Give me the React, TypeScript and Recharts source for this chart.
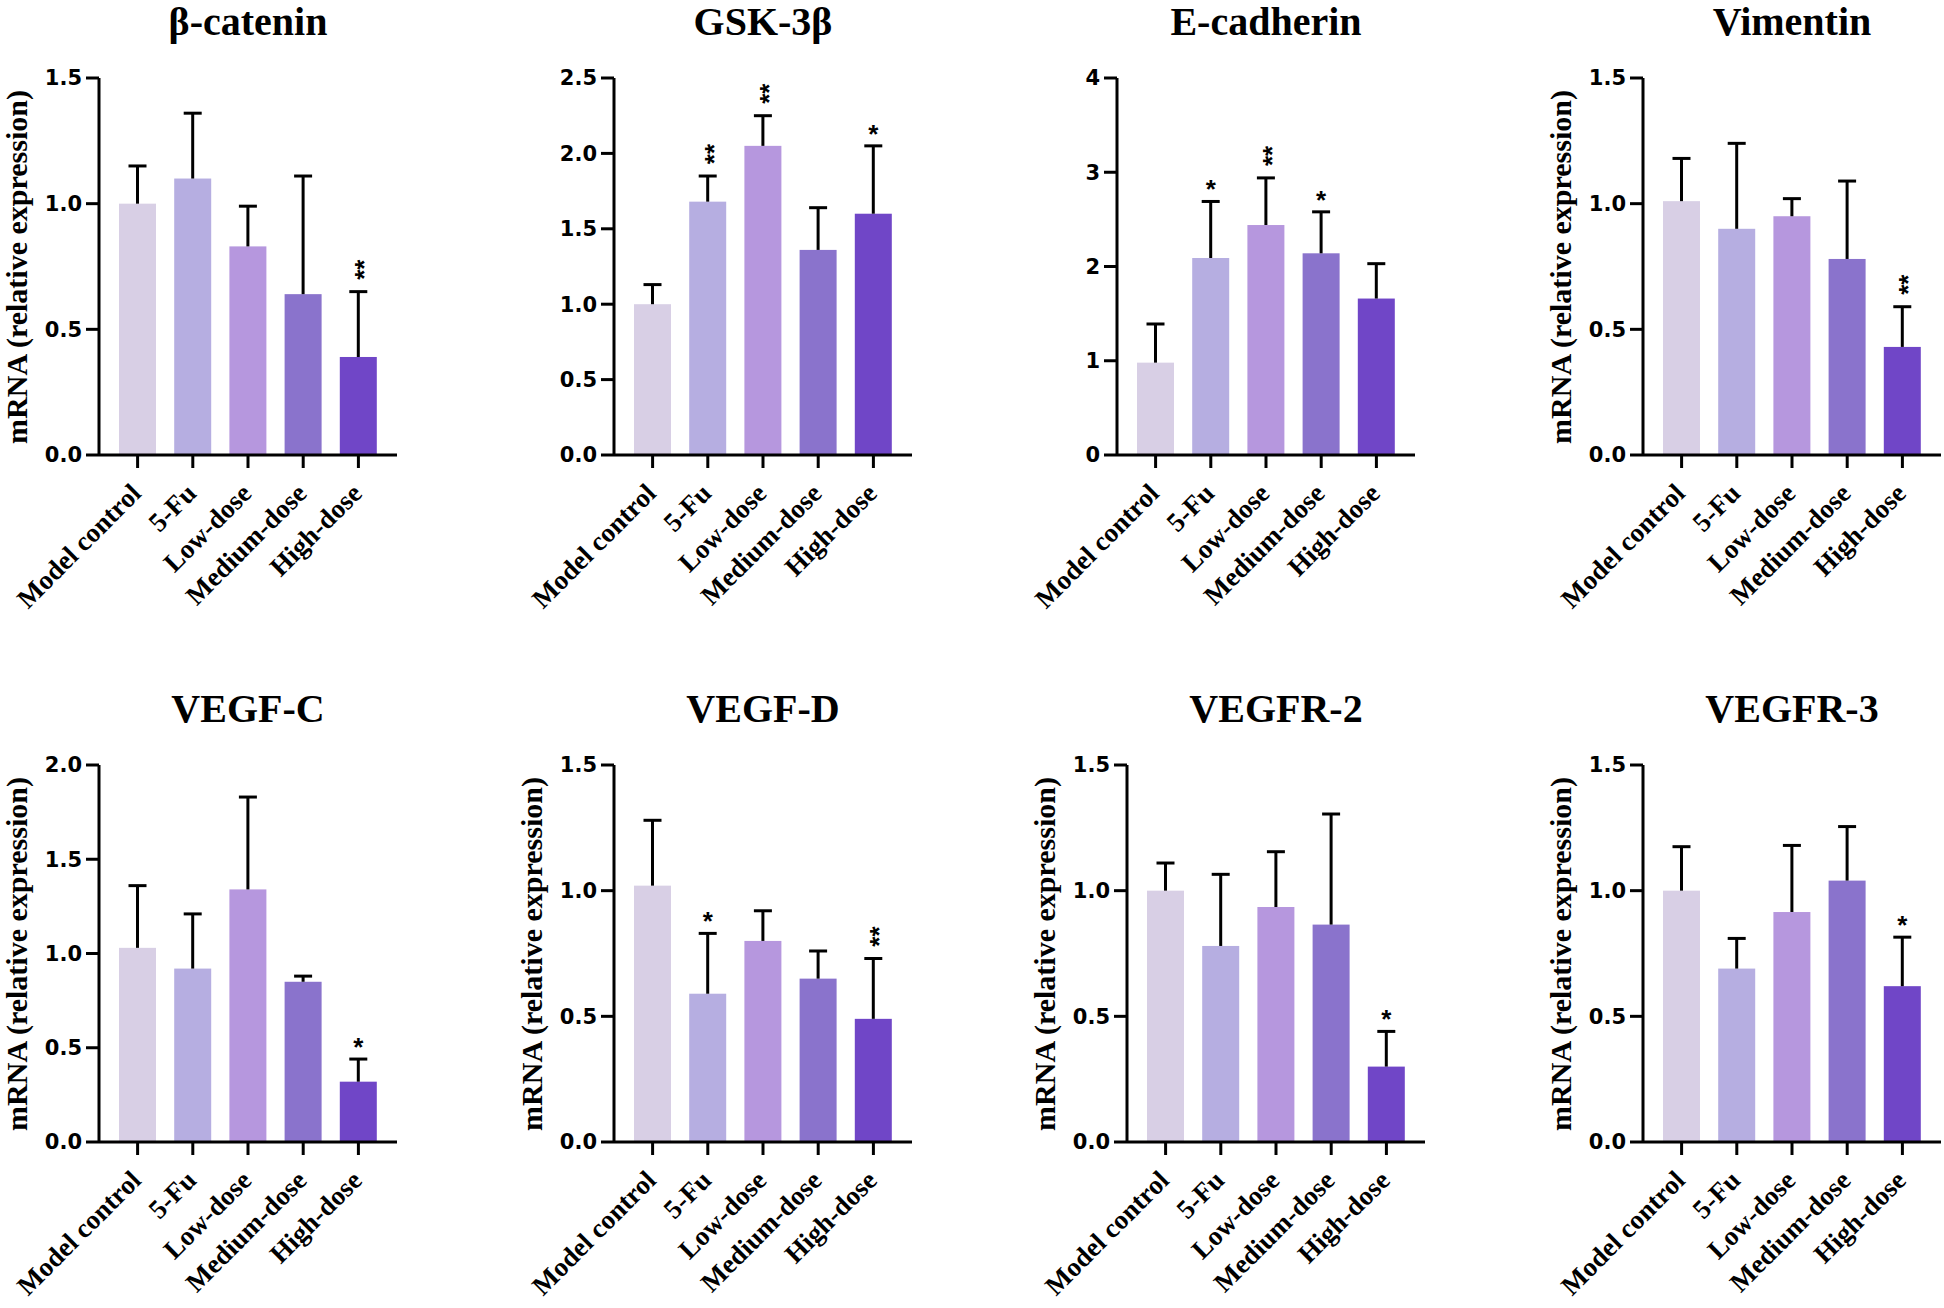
import React from 'react';
import { Bar, BarChart, Cell, XAxis, YAxis } from 'recharts';

const groups = ['Model control', '5-Fu', 'Low-dose', 'Medium-dose', 'High-dose'];
const barColors = ['#d8cfe5', '#b6aee1', '#b697de', '#8a73cc', '#7046c7'];

// mean and SD (upper error)
const betaCateninMean = [1.0, 1.1, 0.83, 0.64, 0.39];
const betaCateninSd = [0.15, 0.26, 0.16, 0.47, 0.26];
const betaCateninSig = ['', '', '', '', '**'];

const gsk3bMean = [1.0, 1.68, 2.05, 1.36, 1.6];
const gsk3bSd = [0.13, 0.17, 0.2, 0.28, 0.45];
const gsk3bSig = ['', '**', '**', '', '*'];

const eCadherinMean = [0.98, 2.09, 2.44, 2.14, 1.66];
const eCadherinSd = [0.41, 0.6, 0.5, 0.44, 0.37];
const eCadherinSig = ['', '*', '**', '*', ''];

const vimentinMean = [1.01, 0.9, 0.95, 0.78, 0.43];
const vimentinSd = [0.17, 0.34, 0.07, 0.31, 0.16];
const vimentinSig = ['', '', '', '', '**'];

const vegfcMean = [1.03, 0.92, 1.34, 0.85, 0.32];
const vegfcSd = [0.33, 0.29, 0.49, 0.03, 0.12];
const vegfcSig = ['', '', '', '', '*'];

const vegfdMean = [1.02, 0.59, 0.8, 0.65, 0.49];
const vegfdSd = [0.26, 0.24, 0.12, 0.11, 0.24];
const vegfdSig = ['', '*', '', '', '**'];

const vegfr2Mean = [1.0, 0.78, 0.935, 0.865, 0.3];
const vegfr2Sd = [0.11, 0.285, 0.22, 0.44, 0.14];
const vegfr2Sig = ['', '', '', '', '*'];

const vegfr3Mean = [1.0, 0.69, 0.915, 1.04, 0.62];
const vegfr3Sd = [0.175, 0.12, 0.265, 0.215, 0.195];
const vegfr3Sig = ['', '', '', '', '*'];

const ticks15 = [0, 0.5, 1, 1.5];
const ticks20 = [0, 0.5, 1, 1.5, 2];
const ticks25 = [0, 0.5, 1, 1.5, 2, 2.5];
const ticks4 = [0, 1, 2, 3, 4];

const Y_LABEL = 'mRNA (relative expression)';

const panels = [
  { title: 'β-catenin', mean: betaCateninMean, sd: betaCateninSd, sig: betaCateninSig, ticks: ticks15, digits: 1, yLabel: true, left: 99, row: 0 },
  { title: 'GSK-3β', mean: gsk3bMean, sd: gsk3bSd, sig: gsk3bSig, ticks: ticks25, digits: 1, yLabel: false, left: 614, row: 0 },
  { title: 'E-cadherin', mean: eCadherinMean, sd: eCadherinSd, sig: eCadherinSig, ticks: ticks4, digits: 0, yLabel: false, left: 1117, row: 0 },
  { title: 'Vimentin', mean: vimentinMean, sd: vimentinSd, sig: vimentinSig, ticks: ticks15, digits: 1, yLabel: true, left: 1643, row: 0 },
  { title: 'VEGF-C', mean: vegfcMean, sd: vegfcSd, sig: vegfcSig, ticks: ticks20, digits: 1, yLabel: true, left: 99, row: 1 },
  { title: 'VEGF-D', mean: vegfdMean, sd: vegfdSd, sig: vegfdSig, ticks: ticks15, digits: 1, yLabel: true, left: 614, row: 1 },
  { title: 'VEGFR-2', mean: vegfr2Mean, sd: vegfr2Sd, sig: vegfr2Sig, ticks: ticks15, digits: 1, yLabel: true, left: 1127, row: 1 },
  { title: 'VEGFR-3', mean: vegfr3Mean, sd: vegfr3Sd, sig: vegfr3Sig, ticks: ticks15, digits: 1, yLabel: true, left: 1643, row: 1 },
];

const PLOT_W = 298;
const PLOT_H = 377;
const PLOT_TOP = 78;
const ROW_GAP = 687;
const AXIS_W = 100;
const X_AXIS_H = 180;
const serif = '"Liberation Serif", "Times New Roman", serif';

function BarWithError(props: any) {
  const { x, y, width, height, fill, payload } = props;
  const cx = x + width / 2;
  const perUnit = payload.mean ? height / payload.mean : 0;
  const topY = y - payload.sd * perUnit;
  const sig = payload.sig;
  return (
    <g>
      <rect x={x} y={y} width={width} height={height} fill={fill} />
      <line x1={cx} y1={y} x2={cx} y2={topY} stroke="#000" strokeWidth={3} />
      <line x1={cx - 9} y1={topY} x2={cx + 9} y2={topY} stroke="#000" strokeWidth={3} />
      {sig === '*' && (
        <text x={cx} y={topY - 18} dy={15} textAnchor="middle" fontFamily="Liberation Sans" fontWeight="bold" fontSize={26}>
          *
        </text>
      )}
      {sig === '**' && (
        <text
          x={cx}
          y={topY - 22}
          dy={15}
          textAnchor="middle"
          fontFamily="Liberation Sans"
          fontWeight="bold"
          fontSize={26}
          transform={`rotate(-90 ${cx} ${topY - 22})`}
        >
          **
        </text>
      )}
    </g>
  );
}

function XTick(props: any) {
  const { x, y, payload } = props;
  const px = x + 5;
  const py = y + 25;
  return (
    <text
      x={px}
      y={py}
      textAnchor="end"
      fontFamily={serif}
      fontWeight="bold"
      fontSize={27}
      fill="#000"
      transform={`rotate(-45 ${px} ${py})`}
    >
      {payload.value}
    </text>
  );
}

function Panel({ p }: { p: any }) {
  const data = groups.map((g, i) => ({ group: g, mean: p.mean[i], sd: p.sd[i], sig: p.sig[i] }));
  const rowTop = p.row * ROW_GAP;
  const max = p.ticks[p.ticks.length - 1];
  return (
    <>
      <div
        style={{
          position: 'absolute',
          left: p.left,
          width: PLOT_W,
          top: rowTop,
          textAlign: 'center',
          fontFamily: serif,
          fontWeight: 'bold',
          fontSize: 40,
          lineHeight: '44px',
          whiteSpace: 'nowrap',
        }}
      >
        {p.title}
      </div>
      {p.yLabel && (
        <div
          style={{
            position: 'absolute',
            left: p.left - 82,
            top: rowTop + PLOT_TOP + PLOT_H / 2,
            transform: 'translate(-50%, -50%) rotate(-90deg)',
            fontFamily: serif,
            fontWeight: 'bold',
            fontSize: 30,
            lineHeight: '34px',
            whiteSpace: 'nowrap',
          }}
        >
          {Y_LABEL}
        </div>
      )}
      <div style={{ position: 'absolute', left: p.left - AXIS_W, top: rowTop }}>
        <BarChart
          width={AXIS_W + PLOT_W + 4}
          height={PLOT_TOP + PLOT_H + X_AXIS_H}
          data={data}
          margin={{ top: PLOT_TOP, right: 4, bottom: 0, left: 0 }}
        >
          <XAxis
            dataKey="group"
            interval={0}
            height={X_AXIS_H}
            padding={{ left: 11, right: 11 }}
            tick={<XTick />}
            tickSize={13}
            stroke="#000"
            axisLine={{ stroke: '#000', strokeWidth: 3 }}
            tickLine={{ stroke: '#000', strokeWidth: 3 }}
          />
          <YAxis
            width={AXIS_W}
            domain={[0, max]}
            ticks={p.ticks}
            interval={0}
            tickFormatter={(v: number) => v.toFixed(p.digits)}
            tickSize={13}
            tickMargin={4}
            tick={{ fontFamily: 'DejaVu Sans', fontWeight: 'bold', fontSize: 21, fill: '#000' }}
            stroke="#000"
            axisLine={{ stroke: '#000', strokeWidth: 3 }}
            tickLine={{ stroke: '#000', strokeWidth: 3 }}
          />
          <Bar dataKey="mean" barSize={37} isAnimationActive={false} shape={<BarWithError />}>
            {data.map((d, i) => (
              <Cell key={d.group} fill={barColors[i]} />
            ))}
          </Bar>
        </BarChart>
      </div>
    </>
  );
}

export default function App() {
  return (
    <div style={{ position: 'absolute', left: 0, top: 0, width: 1944, height: 1308, background: '#fff', overflow: 'hidden' }}>
      {panels.map((p) => (
        <Panel key={p.title} p={p} />
      ))}
    </div>
  );
}
